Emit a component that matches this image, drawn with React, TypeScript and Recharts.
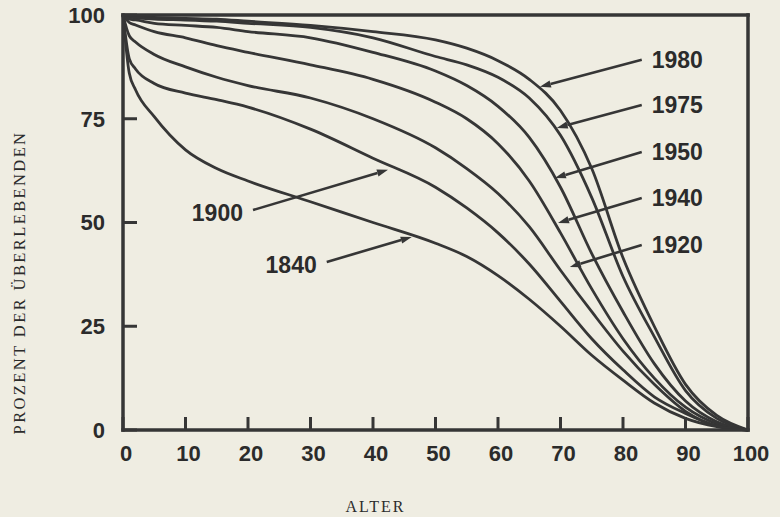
import React from "react";
import { LineChart, Line, XAxis, YAxis, ReferenceLine, Label } from "recharts";

// Age grid (years)
const AGES = [0, 1, 2, 5, 10, 15, 20, 30, 40, 50, 55, 60, 65, 70, 75, 80, 85, 90, 95, 100];

// Percent surviving per cohort year
const S1980 = [100, 99.7, 99.6, 99.4, 99.2, 99, 98.5, 97.5, 96, 94, 92, 89, 84.5, 77, 63, 41.5, 25, 11, 3.5, 0];
const S1975 = [100, 99.5, 99.3, 99, 98.8, 98.5, 98, 97, 94.5, 90, 88, 85, 80, 71, 56, 37, 22.5, 9.5, 2.8, 0];
const S1950 = [100, 99, 98.8, 98, 97.5, 97, 96, 94.5, 91, 86.5, 83, 78, 70.5, 58.5, 42.5, 28.5, 16, 7, 2, 0];
const S1940 = [100, 98.2, 97.6, 96, 94.5, 92.6, 91, 88, 84.5, 79, 75, 69, 60, 47.5, 34, 22, 12.5, 5.5, 1.5, 0];
const S1920 = [100, 95, 93.5, 90.5, 87.5, 85, 83, 80, 75, 68, 63, 57, 49, 38.5, 28.5, 19, 11, 4.5, 1, 0];
const S1900 = [100, 89.5, 87, 83.5, 81.2, 79.6, 77.8, 72.5, 65.5, 58.5, 53.5, 47.5, 40, 31, 22, 14.5, 8, 4, 1, 0];
const S1840 = [100, 86, 82, 75.5, 67.5, 63, 60, 55, 50, 45, 41.8, 37.2, 31.5, 25, 18, 12, 6.5, 2.8, 0.8, 0];

const SERIES = [
  { key: "y1980", values: S1980 },
  { key: "y1975", values: S1975 },
  { key: "y1950", values: S1950 },
  { key: "y1940", values: S1940 },
  { key: "y1920", values: S1920 },
  { key: "y1900", values: S1900 },
  { key: "y1840", values: S1840 },
];

const X_TICKS = [0, 10, 20, 30, 40, 50, 60, 70, 80, 90, 100];
const TOP_TICKS = [10, 20, 30, 40, 50, 60, 70, 80, 90];
const Y_TICKS = [0, 25, 50, 75, 100];
const RIGHT_TICKS = [25, 50, 75];

// Arrow annotations: label, start (near label) and tip (on the curve), in data units
const ARROWS = [
  { label: "1980", from: [83.0, 89.2], to: [66.7, 82.7], side: "right" },
  { label: "1975", from: [83.0, 78.3], to: [69.4, 72.8], side: "right" },
  { label: "1950", from: [83.0, 67.0], to: [69.1, 60.7], side: "right" },
  { label: "1940", from: [83.0, 55.9], to: [69.6, 49.9], side: "right" },
  { label: "1920", from: [83.0, 44.6], to: [71.5, 39.3], side: "right" },
  { label: "1900", from: [20.8, 53.0], to: [42.4, 62.7], side: "left" },
  { label: "1840", from: [32.6, 40.5], to: [46.2, 46.5], side: "left" },
];

const data = AGES.map((age, i) => {
  const row: Record<string, number> = { age };
  SERIES.forEach((s) => {
    row[s.key] = s.values[i];
  });
  return row;
});

const INK = "#363636";
const TXT = "#2b2b2b";
const BOLD_FONT = "'Liberation Sans', Arial, sans-serif";
const SERIF_FONT = "'Liberation Serif', 'DejaVu Serif', serif";

const makeArrowShape = (label: string, side: string) => (p: any) => {
  const { x1, y1, x2, y2 } = p;
  const dx = x2 - x1;
  const dy = y2 - y1;
  const len = Math.sqrt(dx * dx + dy * dy) || 1;
  const ux = dx / len;
  const uy = dy / len;
  const hl = 11;
  const hw = 3.6;
  const bx = x2 - ux * hl;
  const by = y2 - uy * hl;
  const pts = `${x2},${y2} ${bx - uy * hw},${by + ux * hw} ${bx + uy * hw},${by - ux * hw}`;
  const tx = side === "right" ? x1 + 10 : x1 - 10;
  const ty = side === "right" ? y1 : y1 + 3;
  return (
    <g>
      <line x1={x1} y1={y1} x2={bx} y2={by} stroke={INK} strokeWidth={2.6} />
      <polygon points={pts} fill={INK} />
      <text
        x={tx}
        y={ty}
        textAnchor={side === "right" ? "start" : "end"}
        dominantBaseline="central"
        fontFamily={BOLD_FONT}
        fontWeight="bold"
        fontSize={23}
        fill={TXT}
      >
        {label}
      </text>
    </g>
  );
};

export default function App() {
  const axisLine = { stroke: INK, strokeWidth: 3.5, strokeLinecap: "square" as const };
  const tickLine = { stroke: INK, strokeWidth: 3 };
  const tickStyle = { fontFamily: BOLD_FONT, fontWeight: "bold", fontSize: 22, fill: TXT };
  return (
    <div
      style={{
        position: "absolute",
        left: 0,
        top: 0,
        width: 780,
        height: 517,
        background: "#efede2",
        overflow: "hidden",
      }}
    >
      <LineChart
        width={780}
        height={517}
        data={data}
        margin={{ top: 14, right: 31, bottom: 0, left: 0 }}
      >
        <XAxis
          dataKey="age"
          type="number"
          domain={[0, 100]}
          ticks={X_TICKS}
          interval={0}
          height={87}
          axisLine={axisLine}
          tickLine={tickLine}
          tickSize={-13}
          tickMargin={28}
          tick={{ ...tickStyle, dx: 3 }}
        >
          <Label
            value="ALTER"
            position="insideBottom"
            offset={5}
            dx={-60}
            style={{ fontFamily: SERIF_FONT, fontSize: 16, letterSpacing: 2, fill: TXT }}
          />
        </XAxis>
        <XAxis
          xAxisId="top"
          orientation="top"
          type="number"
          domain={[0, 100]}
          ticks={TOP_TICKS}
          interval={0}
          height={1}
          axisLine={axisLine}
          tickLine={tickLine}
          tickSize={-11}
          tick={false}
        />
        <YAxis
          type="number"
          domain={[0, 100]}
          ticks={Y_TICKS}
          interval={0}
          width={123}
          axisLine={axisLine}
          tickLine={tickLine}
          tickSize={-14}
          tickMargin={32}
          tick={tickStyle}
        >
          <Label
            content={(p: any) => {
              const vb = p.viewBox || { x: 0, y: 15, width: 123, height: 415 };
              const cx = vb.x + 19;
              const cy = vb.y + vb.height / 2 + 60;
              return (
                <text
                  x={cx}
                  y={cy}
                  transform={`rotate(-90 ${cx} ${cy})`}
                  textAnchor="middle"
                  dominantBaseline="central"
                  fontFamily={SERIF_FONT}
                  fontSize={16.5}
                  letterSpacing={2.4}
                  fill={TXT}
                >
                  PROZENT DER ÜBERLEBENDEN
                </text>
              );
            }}
          />
        </YAxis>
        <YAxis
          yAxisId="right"
          orientation="right"
          type="number"
          domain={[0, 100]}
          ticks={RIGHT_TICKS}
          interval={0}
          width={1}
          axisLine={axisLine}
          tickLine={tickLine}
          tickSize={-13}
          tick={false}
        />
        {SERIES.map((s) => (
          <Line
            key={s.key}
            dataKey={s.key}
            type="monotone"
            stroke={INK}
            strokeWidth={2.8}
            dot={false}
            activeDot={false}
            isAnimationActive={false}
          />
        ))}
        {ARROWS.map((a) => (
          <ReferenceLine
            key={a.label}
            segment={[
              { x: a.from[0], y: a.from[1] },
              { x: a.to[0], y: a.to[1] },
            ]}
            ifOverflow="visible"
            shape={makeArrowShape(a.label, a.side)}
          />
        ))}
      </LineChart>
    </div>
  );
}
